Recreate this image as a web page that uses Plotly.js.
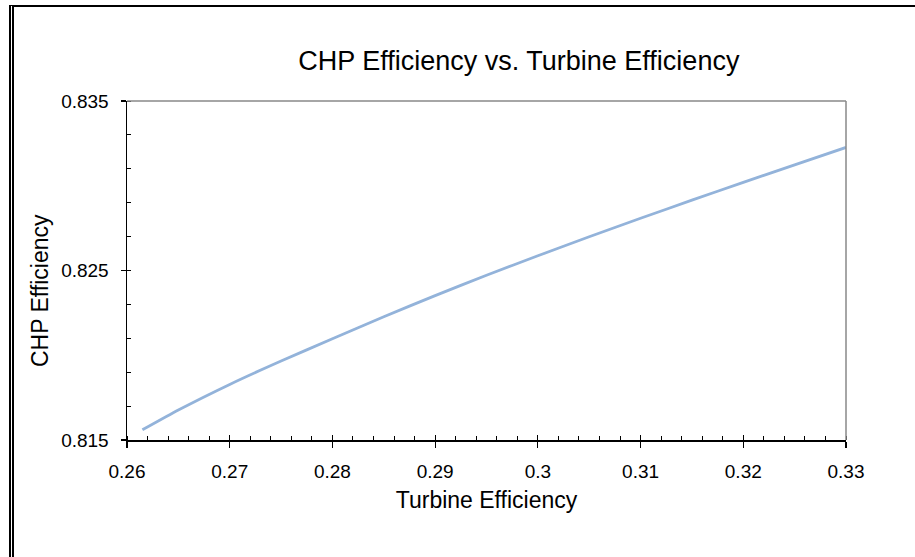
<!DOCTYPE html>
<html>
<head>
<meta charset="utf-8">
<script src="https://cdn.plot.ly/plotly-3.0.1.min.js"></script>
<style>
  html, body { margin: 0; padding: 0; background: #fff; }
  #wrap { position: relative; width: 915px; height: 557px; overflow: hidden; }
  #chart { position: absolute; left: 0; top: 0; width: 915px; height: 557px; }
  #frame { position: absolute; left: 9px; top: 5px; width: 920px; height: 570px;
           border-top: 2px solid #000; border-left: 5px double #000; pointer-events: none; }
</style>
</head>
<body>
<div id="wrap">
  <div id="chart"></div>
  <div id="frame"></div>
</div>
<script>
// Data
const turbineEfficiency = [0.2615, 0.265, 0.27, 0.275, 0.28, 0.285, 0.29, 0.295, 0.30, 0.305, 0.31, 0.315, 0.32, 0.325, 0.33];
const chpEfficiency     = [0.81560, 0.81677, 0.81828, 0.81966, 0.82097, 0.82227, 0.82352, 0.82472, 0.82587, 0.82699, 0.82808, 0.82915, 0.83020, 0.83123, 0.83226];
const xRange = [0.26, 0.33];
const yRange = [0.815, 0.835];
const xTickVals = [0.26, 0.27, 0.28, 0.29, 0.30, 0.31, 0.32, 0.33];
const xTickText = ["0.26", "0.27", "0.28", "0.29", "0.3", "0.31", "0.32", "0.33"];
const yTickVals = [0.815, 0.825, 0.835];
const yTickText = ["0.815", "0.825", "0.835"];
const chartTitle = "CHP Efficiency vs. Turbine Efficiency";
const xTitle = "Turbine Efficiency";
const yTitle = "CHP Efficiency";

const FONT = "Liberation Sans, Arial, sans-serif";

const trace = {
  x: turbineEfficiency,
  y: chpEfficiency,
  type: "scatter",
  mode: "lines",
  line: { color: "#93B3DA", width: 2.8, shape: "spline", smoothing: 0.5 },
  hoverinfo: "skip",
  showlegend: false
};

const layout = {
  width: 915,
  height: 557,
  margin: { l: 127, r: 69, t: 101, b: 117, pad: 0 },
  paper_bgcolor: "#ffffff",
  plot_bgcolor: "#ffffff",
  font: { family: FONT, color: "#000" },
  title: {
    text: chartTitle,
    font: { family: FONT, size: 27, color: "#000" },
    xref: "container", x: 0.567, xanchor: "center",
    yref: "container", y: 0.892, yanchor: "middle"
  },
  xaxis: {
    range: xRange,
    tickmode: "array",
    tickvals: xTickVals,
    ticktext: xTickText,
    ticks: "outside",
    ticklen: 6,
    tickwidth: 1.2,
    tickcolor: "#000",
    ticklabelstandoff: 8,
    tickfont: { family: FONT, size: 19, color: "#000" },
    showline: true,
    linecolor: "#000",
    linewidth: 1.5,
    showgrid: false,
    zeroline: false,
    minor: { dtick: 0.002, tick0: 0.26, ticks: "inside", ticklen: 4, tickwidth: 1, tickcolor: "#000", showgrid: false },
    title: { text: xTitle, font: { family: FONT, size: 23, color: "#000" }, standoff: 10 },
    automargin: false
  },
  xaxis2: {
    overlaying: "x",
    anchor: "y",
    side: "bottom",
    range: xRange,
    tickmode: "array",
    tickvals: xTickVals,
    ticks: "inside",
    ticklen: 5,
    tickwidth: 1.2,
    tickcolor: "#000",
    showticklabels: false,
    showline: false,
    showgrid: false,
    zeroline: false
  },
  yaxis: {
    range: yRange,
    tickmode: "array",
    tickvals: yTickVals,
    ticktext: yTickText,
    ticks: "outside",
    ticklen: 5,
    tickwidth: 1.2,
    tickcolor: "#000",
    ticklabelstandoff: 8,
    tickfont: { family: FONT, size: 19, color: "#000" },
    showline: true,
    linecolor: "#000",
    linewidth: 1.5,
    showgrid: false,
    zeroline: false,
    minor: { dtick: 0.002, tick0: 0.815, ticks: "inside", ticklen: 4, tickwidth: 1, tickcolor: "#000", showgrid: false },
    automargin: false
  },
  annotations: [
    { text: yTitle, xref: "paper", yref: "paper", x: -0.121, y: 0.4395, xanchor: "center", yanchor: "middle",
      textangle: -90, showarrow: false, font: { family: FONT, size: 23, color: "#000" } }
  ],
  shapes: [
    { type: "line", xref: "paper", yref: "paper", x0: 0, x1: 1, y0: 1, y1: 1, line: { color: "#888", width: 1.5 } },
    { type: "line", xref: "paper", yref: "paper", x0: 1, x1: 1, y0: 0, y1: 1, line: { color: "#888", width: 1.5 } }
  ]
};

Plotly.newPlot("chart", [trace, { x: [], y: [], xaxis: "x2", yaxis: "y", type: "scatter", showlegend: false, hoverinfo: "skip" }], layout, { displayModeBar: false, staticPlot: true });
</script>
</body>
</html>
